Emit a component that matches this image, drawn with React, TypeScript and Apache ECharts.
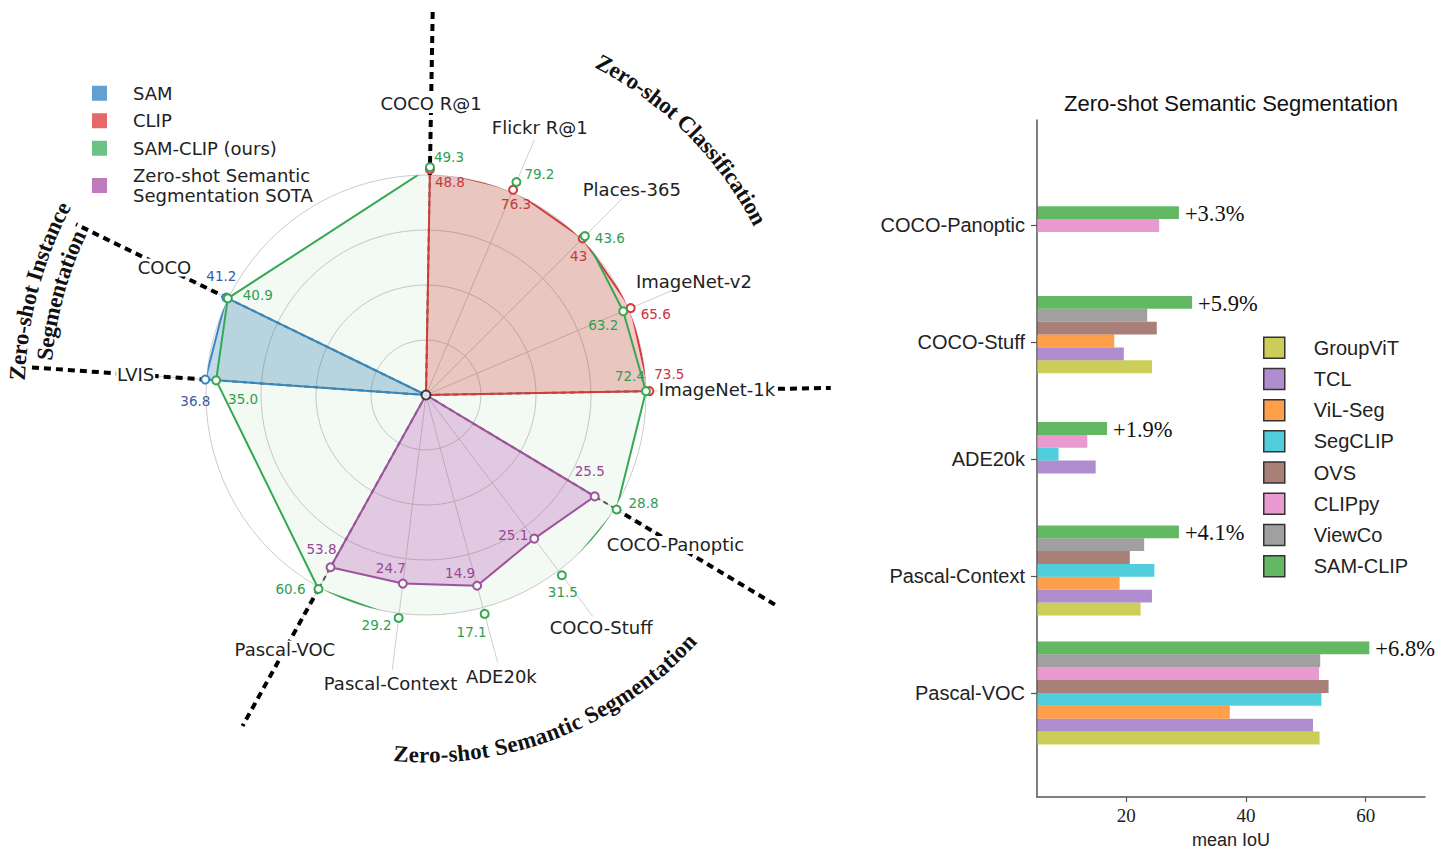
import React, { useEffect, useRef } from "react";
import * as echarts from "echarts";

// ---------------- Left: radar of zero-shot results ----------------
const radarAxes = [
  "COCO R@1", "Flickr R@1", "Places-365", "ImageNet-v2", "ImageNet-1k",
  "COCO-Panoptic", "COCO-Stuff", "ADE20k", "Pascal-Context", "Pascal-VOC",
  "LVIS", "COCO",
];
// direction of each spoke (degrees, counter-clockwise from 3 o'clock)
const radarAngles = [89, 67, 45, 23, 1, 329, 307, 285, 263, 241, 176, 154];
// value that reaches the outer grid circle on each spoke
const radarScale = [47.6, 75.3, 42.7, 64.9, 72.4, 28.5, 30.7, 16.6, 28.6, 60.1, 36.6, 40.8];

const samClipRadar = [49.3, 79.2, 43.6, 63.2, 72.4, 28.8, 31.5, 17.1, 29.2, 60.6, 35.0, 40.9];
const clipRadar = [48.8, 76.3, 43, 65.6, 73.5, null, null, null, null, null, null, null];
const samRadar = [null, null, null, null, null, null, null, null, null, null, 36.8, 41.2];
const sotaRadar = [null, null, null, null, null, 25.5, 25.1, 14.9, 24.7, 53.8, null, null];

// spokes that separate the task groups, and how far their dashes reach
const dividerAxes = [0, 4, 5, 9, 10, 11];
const dividerReach = [1.76, 1.84, 1.87, 1.72, 1.8, 1.77];

// value-label offsets (px) from their markers
const samClipLabelOffset = [[19, -10], [23, -8], [25, 2], [-20, 14], [-16, -15], [27, -7], [1, 17], [-13, 18], [-22, 7], [-28, 0], [27, 19], [30, -3]];
const clipLabelOffset = [[20, 13], [3, 14], [-4, 18], [25, 6], [20, -17], [0, 0], [0, 0], [0, 0], [0, 0], [0, 0], [0, 0], [0, 0]];
const samLabelOffset = [[0, 0], [0, 0], [0, 0], [0, 0], [0, 0], [0, 0], [0, 0], [0, 0], [0, 0], [0, 0], [-10, 21], [-5, -22]];
const sotaLabelOffset = [[0, 0], [0, 0], [0, 0], [0, 0], [0, 0], [-5, -25], [-21, -4], [-17, -13], [-12, -16], [-9, -18], [0, 0], [0, 0]];

const SAM_NAME = "SAM";
const CLIP_NAME = "CLIP";
const SAMCLIP_NAME = "SAM-CLIP (ours)";
const SOTA_NAME = "Zero-shot Semantic Segmentation SOTA";

// ---------------- Right: zero-shot semantic segmentation bars ----------------
const segCategories = ["Pascal-VOC", "Pascal-Context", "ADE20k", "COCO-Stuff", "COCO-Panoptic"]; // bottom -> top
const segMethods = ["GroupViT", "TCL", "ViL-Seg", "SegCLIP", "OVS", "CLIPpy", "ViewCo", "SAM-CLIP"];
const groupViT = [52.3, 22.4, null, 24.3, null];
const tcl = [51.2, 24.3, 14.9, 19.6, null];
const vilSeg = [37.3, 18.9, null, 18.0, null];
const segClip = [52.6, 24.7, 8.7, null, null];
const ovs = [53.8, 20.6, null, 25.1, null];
const clippy = [52.2, null, 13.5, null, 25.5];
const viewCo = [52.4, 23.0, null, 23.5, null];
const samClipSeg = [60.6, 28.8, 16.8, 31.0, 28.8];
const segValues = [groupViT, tcl, vilSeg, segClip, ovs, clippy, viewCo, samClipSeg];
const xTicks = [20, 40, 60];

const segColors = [
  "rgba(188,189,34,0.75)", "rgba(148,103,189,0.75)", "rgba(255,127,14,0.75)", "rgba(23,190,207,0.75)",
  "rgba(140,86,75,0.75)", "rgba(227,119,194,0.75)", "rgba(127,127,127,0.74)", "rgba(44,160,44,0.74)",
];
const BAR_H = 0.11;
const groupShift = [0, 0.048, 0.097, 0.065, 0.053];

const CX = 426, CY = 395, R0 = 220;

function measureChars(font: string, s: string): number[] {
  const ctx = document.createElement("canvas").getContext("2d") as CanvasRenderingContext2D;
  ctx.font = font;
  return Array.from(s).map((ch) => ctx.measureText(ch).width);
}

function arcText(text: string, r: number, midDeg: number, font: string, outward: boolean) {
  const w = measureChars(font, text);
  const total = w.reduce((a, b) => a + b, 0);
  const chars = Array.from(text);
  const mid = (midDeg * Math.PI) / 180;
  let s = -total / 2;
  const els: any[] = [];
  w.forEach((cw, i) => {
    const sc = s + cw / 2;
    s += cw;
    const th = outward ? mid - sc / r : mid + sc / r;
    els.push({
      type: "text",
      x: CX + r * Math.cos(th),
      y: CY - r * Math.sin(th),
      rotation: outward ? th - Math.PI / 2 : th + Math.PI / 2,
      silent: true,
      style: { text: chars[i], font, fill: "#111", align: "center", verticalAlign: "middle" },
    });
  });
  return els;
}

function fanData(values: (number | null)[], offsets: number[][], closed: boolean, fmt: (v: number) => string) {
  const idx = values.map((v, i) => (v == null ? -1 : i)).filter((i) => i >= 0);
  const pts = idx.map((i) => ({
    value: [(values[i] as number) / radarScale[i], radarAngles[i]],
    name: fmt(values[i] as number),
    label: { offset: offsets[i] },
  }));
  if (closed) {
    return [...pts, { value: pts[0].value, name: "", symbol: "none", label: { show: false } }];
  }
  return [
    { value: [0, radarAngles[idx[0]]], name: "", symbol: "none", label: { show: false } },
    ...pts,
    { value: [0, radarAngles[idx[idx.length - 1]]], name: "", symbol: "none", label: { show: false } },
  ];
}

function radarSeries(name: string, data: any[], line: string, text: string, fill: string, z: number) {
  return {
    type: "line",
    name,
    coordinateSystem: "polar",
    polarIndex: 0,
    data,
    clip: false,
    z,
    symbol: "emptyCircle",
    symbolSize: 8,
    itemStyle: { color: line, borderWidth: 1.8 },
    lineStyle: { color: line, width: 2 },
    areaStyle: { color: fill, opacity: 1 },
    label: {
      show: true,
      position: "inside",
      formatter: "{b}",
      color: text,
      fontSize: 13.5,
      fontFamily: "DejaVu Sans",
    },
    emphasis: { disabled: true },
    silent: true,
  };
}

function buildOption() {
  const fmt1 = (v: number) => v.toFixed(1);
  const fmtRaw = (v: number) => String(v);

  // bar layout: bars of each dataset are packed around the dataset position
  const barData: any[][] = segMethods.map(() => []);
  segCategories.forEach((_, c) => {
    const present = segValues.map((arr, m) => (arr[c] == null ? -1 : m)).filter((m) => m >= 0);
    const n = present.length;
    present.forEach((m, j) => {
      const y = c + groupShift[c] + (j - (n - 1) / 2) * BAR_H;
      barData[m].push([segValues[m][c], y]);
    });
  });
  const gainData = segCategories.map((_, c) => {
    const best = Math.max(...segValues.slice(0, 7).map((a) => (a[c] == null ? -Infinity : (a[c] as number))));
    const last = barData[7].find((d) => Math.abs(d[1] - c) < 0.5);
    return { value: [samClipSeg[c], last ? last[1] : c], gain: samClipSeg[c] - best };
  });

  const barSeries = segMethods.map((m, k) => ({
    type: "custom",
    name: m,
    xAxisIndex: 0,
    yAxisIndex: 0,
    clip: true,
    itemStyle: { color: segColors[k] },
    data: barData[k],
    silent: true,
    renderItem: (params: any, api: any) => {
      const v = api.value(0);
      const y = api.value(1);
      const p0 = api.coord([0, y]);
      const p1 = api.coord([v, y]);
      const h = api.size([0, BAR_H])[1];
      return {
        type: "rect",
        shape: { x: p0[0], y: p0[1] - h / 2, width: p1[0] - p0[0], height: h },
        style: { fill: segColors[k] },
      };
    },
  }));

  const gainSeries = {
    type: "custom",
    name: "gain",
    xAxisIndex: 0,
    yAxisIndex: 0,
    clip: false,
    silent: true,
    data: gainData.map((d) => d.value),
    renderItem: (params: any, api: any) => {
      const p = api.coord([api.value(0), api.value(1)]);
      return {
        type: "text",
        x: p[0] + 6,
        y: p[1] + 1,
        style: {
          text: "+" + gainData[params.dataIndex].gain.toFixed(1) + "%",
          font: '22.5px "Liberation Serif"',
          fill: "#111",
          align: "left",
          verticalAlign: "middle",
        },
      };
    },
  };

  const spokeSeries = {
    type: "custom",
    coordinateSystem: "polar",
    polarIndex: 0,
    z: 1,
    silent: true,
    data: radarAngles.map((a) => [1.26, a]),
    renderItem: (params: any, api: any) => {
      const a = api.value(1);
      const p0 = api.coord([0, a]);
      const p1 = api.coord([api.value(0), a]);
      return {
        type: "line",
        shape: { x1: p0[0], y1: p0[1], x2: p1[0], y2: p1[1] },
        style: { stroke: "#cfcfcf", lineWidth: 1 },
      };
    },
  };

  const dividerSeries = {
    type: "custom",
    coordinateSystem: "polar",
    polarIndex: 0,
    z: 1.5,
    silent: true,
    data: dividerAxes.map((ai, k) => [dividerReach[k], radarAngles[ai]]),
    renderItem: (params: any, api: any) => {
      const a = api.value(1);
      const p0 = api.coord([0, a]);
      const pm = api.coord([1.0, a]);
      const p1 = api.coord([api.value(0), a]);
      return {
        type: "group",
        children: [
          {
            type: "line",
            shape: { x1: p0[0], y1: p0[1], x2: pm[0], y2: pm[1] },
            style: { stroke: "#555", lineWidth: 2, lineDash: [5, 4] },
          },
          {
            type: "line",
            shape: { x1: pm[0], y1: pm[1], x2: p1[0], y2: p1[1] },
            style: { stroke: "#000", lineWidth: 4, lineDash: [7, 5] },
          },
        ],
      };
    },
  };

  const axisLabelSeries = {
    type: "custom",
    coordinateSystem: "polar",
    polarIndex: 0,
    z: 3,
    silent: true,
    data: radarAngles.map((a) => [1.323, a]),
    renderItem: (params: any, api: any) => {
      const p = api.coord([api.value(0), api.value(1)]);
      return {
        type: "text",
        x: p[0],
        y: p[1],
        style: {
          text: radarAxes[params.dataIndex],
          font: '18px "DejaVu Sans"',
          fill: "#222",
          align: "center",
          verticalAlign: "middle",
          backgroundColor: "#fff",
          padding: [0, 1],
        },
      };
    },
  };

  const centerSeries = {
    type: "scatter",
    coordinateSystem: "polar",
    polarIndex: 0,
    z: 10,
    silent: true,
    symbol: "circle",
    symbolSize: 9,
    itemStyle: { color: "#fff", borderColor: "#1c1c28", borderWidth: 2 },
    data: [[0, 0]],
  };

  const graphics: any[] = [
    ...arcText("Zero-shot Classification", 376, 45, 'bold 23px "Liberation Serif"', true),
    ...arcText("Zero-shot Semantic Segmentation", 360, -68.75, 'bold 23px "Liberation Serif"', false),
    ...arcText("Zero-shot Instance", 409, 165, 'bold 23px "Liberation Serif"', true),
    ...arcText("Segmentation", 383, 164.75, 'bold 23px "Liberation Serif"', true),
    {
      type: "text",
      x: 1231,
      y: 103,
      silent: true,
      style: {
        text: "Zero-shot Semantic Segmentation",
        font: '22px "Liberation Sans"',
        fill: "#111",
        align: "center",
        verticalAlign: "middle",
      },
    },
  ];

  return {
    animation: false,
    backgroundColor: "#fff",
    textStyle: { fontFamily: "DejaVu Sans" },
    polar: { center: [CX, CY], radius: R0 },
    angleAxis: {
      type: "value",
      min: 0,
      max: 360,
      startAngle: 0,
      clockwise: false,
      axisLine: { show: false },
      axisTick: { show: false },
      axisLabel: { show: false },
      splitLine: { show: false },
    },
    radiusAxis: {
      type: "value",
      min: 0,
      max: 1,
      interval: 0.25,
      axisLine: { show: false },
      axisTick: { show: false },
      axisLabel: { show: false },
      splitLine: { show: true, lineStyle: { color: "#cccccc", width: 1 } },
    },
    grid: { left: 1037, top: 120, width: 388, height: 677, containLabel: false, outerBoundsMode: "none" },
    xAxis: {
      type: "value",
      min: 5.1,
      max: 69.9,
      axisLine: { show: true, onZero: false, lineStyle: { color: "#555", width: 1.5 } },
      axisTick: { show: true, customValues: xTicks, length: 5, lineStyle: { color: "#555", width: 1.2 } },
      axisLabel: {
        customValues: xTicks,
        fontFamily: "Liberation Serif",
        fontSize: 19,
        color: "#222",
        margin: 9,
      },
      splitLine: { show: false },
      name: "mean IoU",
      nameLocation: "middle",
      nameGap: 34,
      nameTextStyle: { fontFamily: "Liberation Sans", fontSize: 18, color: "#222" },
    },
    yAxis: {
      type: "value",
      min: -0.89,
      max: 4.9,
      axisLine: { show: true, onZero: false, lineStyle: { color: "#555", width: 1.5 } },
      axisTick: { show: true, customValues: [0, 1, 2, 3, 4], length: 6, lineStyle: { color: "#555", width: 1.2 } },
      axisLabel: {
        customValues: [0, 1, 2, 3, 4],
        formatter: (v: number) => segCategories[Math.round(v)],
        fontFamily: "Liberation Sans",
        fontSize: 20,
        color: "#222",
        margin: 12,
      },
      splitLine: { show: false },
    },
    legend: [
      {
        orient: "vertical",
        left: 92,
        top: 83.5,
        padding: 0,
        itemWidth: 15,
        itemHeight: 15,
        itemGap: 8,
        icon: "rect",
        selectedMode: false,
        formatter: (name: string) => (name === SOTA_NAME ? "Zero-shot Semantic\nSegmentation SOTA" : name),
        textStyle: { fontFamily: "DejaVu Sans", fontSize: 18, lineHeight: 19.5, color: "#222", padding: [0, 0, 0, 21] },
        data: [
          { name: SAM_NAME, itemStyle: { color: "#62a0d2", borderWidth: 0 } },
          { name: CLIP_NAME, itemStyle: { color: "#e76869", borderWidth: 0 } },
          { name: SAMCLIP_NAME, itemStyle: { color: "#6cc183", borderWidth: 0 } },
          { name: SOTA_NAME, itemStyle: { color: "#bd7abd", borderWidth: 0 } },
        ],
      },
      {
        orient: "vertical",
        left: 1263,
        top: 336.5,
        padding: 0,
        itemWidth: 21,
        itemHeight: 21,
        itemGap: 8.7,
        icon: "rect",
        selectedMode: false,
        textStyle: { fontFamily: "Liberation Sans", fontSize: 20, lineHeight: 21, color: "#222", padding: [0, 0, 0, 24] },
        data: segMethods.map((m, k) => ({
          name: m,
          itemStyle: { color: segColors[k], borderColor: "#333", borderWidth: 1.5 },
        })),
      },
    ],
    graphic: graphics,
    series: [
      spokeSeries,
      dividerSeries,
      radarSeries(SOTA_NAME, fanData(sotaRadar, sotaLabelOffset, false, fmtRaw), "#a64fa6", "#a040a0", "rgba(180,60,180,0.25)", 2),
      radarSeries(SAM_NAME, fanData(samRadar, samLabelOffset, false, fmtRaw), "#3b86c2", "#3b5ba8", "rgba(31,119,180,0.28)", 2),
      radarSeries(CLIP_NAME, fanData(clipRadar, clipLabelOffset, false, fmtRaw), "#d8393b", "#cc3340", "rgba(214,39,40,0.25)", 2),
      radarSeries(SAMCLIP_NAME, fanData(samClipRadar, samClipLabelOffset, true, fmt1), "#35a853", "#2e9e4f", "rgba(44,160,44,0.06)", 2.1),
      axisLabelSeries,
      centerSeries,
      ...barSeries,
      gainSeries,
    ],
  };
}

export default function App() {
  const ref = useRef<HTMLDivElement>(null);
  useEffect(() => {
    const chart = echarts.init(ref.current as HTMLDivElement, undefined, { renderer: "svg" });
    chart.setOption(buildOption() as any);
    return () => chart.dispose();
  }, []);
  return (
    <div
      ref={ref}
      style={{ position: "absolute", left: 0, top: 0, width: 1441, height: 850, background: "#fff" }}
    />
  );
}
